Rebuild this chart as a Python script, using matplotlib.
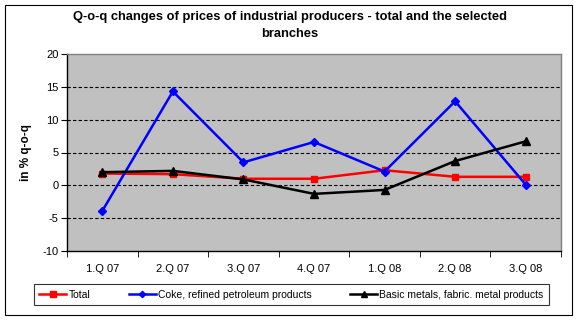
import matplotlib
matplotlib.use("Agg")
import matplotlib.pyplot as plt
from matplotlib.patches import Rectangle
import numpy as np

plt.rcParams['font.family'] = ['Liberation Sans', 'DejaVu Sans']

quarters = ["1.Q 07", "2.Q 07", "3.Q 07", "4.Q 07", "1.Q 08", "2.Q 08", "3.Q 08"]
total = [1.8, 1.7, 1.0, 1.0, 2.3, 1.3, 1.3]
coke = [-3.9, 14.3, 3.5, 6.6, 2.1, 12.8, 0.1]
metals = [2.0, 2.2, 0.9, -1.3, -0.7, 3.7, 6.7]
y_ticks = [-10, -5, 0, 5, 10, 15, 20]

W, H = 580, 322
fig = plt.figure(figsize=(W / 100, H / 100), dpi=100)
fig.patch.set_facecolor("white")

# outer chart frame
fig.add_artist(Rectangle((5 / W, 1 - 315 / H), 567 / W, 310 / H, transform=fig.transFigure,
                         fill=False, edgecolor="black", linewidth=0.8))

ax = fig.add_axes([67 / W, 1 - 251 / H, 494 / W, 197 / H])
ax.set_facecolor("#C0C0C0")
for s in ax.spines.values():
    s.set_color("#808080")
    s.set_linewidth(1.0)
ax.spines["left"].set_color("black")
ax.spines["bottom"].set_color("black")

x = np.arange(len(quarters))
ax.set_xlim(-0.5, len(quarters) - 0.5)
ax.set_ylim(-10, 20)
ax.set_yticks(y_ticks)
ax.set_yticklabels([str(v) for v in y_ticks], fontsize=8)
ax.set_xticks(x)
ax.set_xticklabels(quarters, fontsize=8)
ax.tick_params(axis="x", length=0, pad=9)
ax.set_xticks(np.arange(-0.5, len(quarters)), minor=True)
ax.tick_params(axis="x", which="minor", length=4, direction="out", color="black")
ax.tick_params(axis="y", length=4, direction="out", color="black", pad=2)

for v in y_ticks[1:-1]:
    ax.axhline(v, color="black", linestyle=(0, (3, 2)), linewidth=0.8, zorder=1)

ax.plot(x, total, color="#FF0000", marker="s", markersize=5, linewidth=1.8,
        label="Total", zorder=3)
ax.plot(x, coke, color="#0000FF", marker="D", markersize=4, linewidth=1.8,
        label="Coke, refined petroleum products", zorder=3)
ax.plot(x, metals, color="black", marker="^", markersize=6, linewidth=1.8,
        label="Basic metals, fabric. metal products", zorder=3)

ax.set_ylabel("in % q-o-q", fontsize=8.5, fontweight="bold")
ax.yaxis.set_label_coords((32 - 67) / 494, 0.5)

fig.text(0.5, 1 - 17 / H, "Q-o-q changes of prices of industrial producers - total and the selected",
         ha="center", va="center", fontsize=9.3, fontweight="bold")
fig.text(0.5, 1 - 34 / H, "branches", ha="center", va="center", fontsize=9.3, fontweight="bold")

leg = fig.legend(loc="center", bbox_to_anchor=((34 + 549) / 2 / W, 1 - 294.5 / H),
                 ncol=3, fontsize=7.5, frameon=True, fancybox=False, edgecolor="black",
                 handlelength=2.6, columnspacing=3.7, handletextpad=0.2,
                 borderpad=0.55, markerscale=0.8)
leg.get_frame().set_linewidth(0.8)

fig.savefig("out.png", dpi=100, facecolor="white")
